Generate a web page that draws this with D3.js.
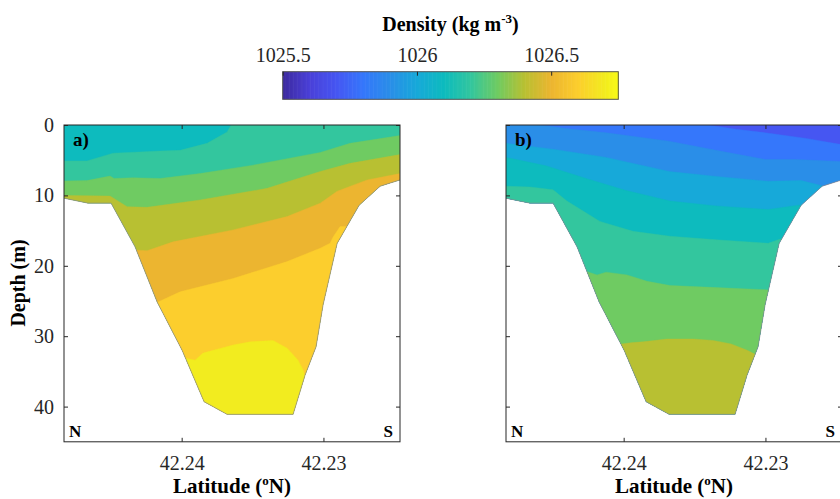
<!DOCTYPE html>
<html>
<head>
<meta charset="utf-8">
<script src="https://cdn.jsdelivr.net/npm/d3@7"></script>
<style>
  body { margin: 0; background: #fff; }
  svg { display: block; font-family: "Liberation Serif", "Times New Roman", serif; }
</style>
</head>
<body>
<svg id="chart" width="840" height="499"></svg>
<script>
// ---- Colour map (density, kg m^-3) ----
const cmapValues = [1025.5, 1025.6, 1025.7, 1025.8, 1025.9, 1026.0, 1026.1, 1026.2, 1026.3, 1026.4, 1026.5, 1026.6, 1026.7, 1026.75];
const cmapColors = ["#3d2a9e", "#4a40d8", "#4656f2", "#3577fb", "#2a8ee8", "#17a9d9", "#0dbbbe", "#33c69e", "#6fcb62", "#b8c032", "#ecb530", "#fcce2d", "#f2ec1f", "#f9fa14"];
const colorbarTicks = [1025.5, 1026, 1026.5];

// ---- Section axes ----
const latTicks = [42.24, 42.23];
const depthTicks = [0, 10, 20, 30, 40];

// ---- Bottom profile along the section (latitude, depth m) ----
const bottomLat   = [42.2483, 42.24661, 42.24498, 42.24329, 42.24174, 42.23997, 42.23842, 42.2368, 42.23214, 42.23129, 42.23052, 42.23002, 42.22903, 42.22748, 42.226, 42.2246];
const bottomDepth = [10.4, 11.1, 11.1, 17.3, 25.1, 32.0, 39.3, 41.1, 41.1, 35.5, 31.5, 25.5, 16.8, 11.4, 8.7, 7.8];

// ---- Panel a: lightest class and isopycnal depths [lat, depth] ----
const levelsA = [1026.2, 1026.3, 1026.4, 1026.5, 1026.6, 1026.7];
const baseA = 1026.1;
const isoA_1026_2 = [[42.2483, 5.1], [42.24668, 5.1], [42.24484, 4.0], [42.24153, 3.7], [42.24011, 3.6], [42.23821, 2.6], [42.2368, 1.0], [42.23637, -0.5], [42.23489, -2], [42.2246, -2]];
const isoA_1026_3 = [[42.2483, 7.95], [42.24668, 7.9], [42.24505, 7.25], [42.24477, 7.6], [42.24343, 7.5], [42.24153, 7.6], [42.2387, 6.9], [42.23496, 5.7], [42.23023, 3.9], [42.22812, 2.6], [42.2246, 1.5]];
const isoA_1026_4 = [[42.2483, 10.0], [42.24505, 10.1], [42.24385, 11.6], [42.24244, 11.7], [42.2387, 10.65], [42.23397, 9.0], [42.23023, 6.6], [42.22812, 5.45], [42.2246, 4.2]];
const isoA_1026_5 = [[42.24477, 30], [42.24407, 19], [42.24329, 17.75], [42.24244, 17.85], [42.24061, 16.6], [42.23637, 14.9], [42.23256, 13.0], [42.23023, 11.1], [42.22903, 9.4], [42.22692, 7.8], [42.2246, 6.9]];
const isoA_1026_6 = [[42.24265, 30], [42.2423, 25.5], [42.24174, 25.2], [42.24011, 23.7], [42.23955, 23.4], [42.23637, 21.8], [42.23256, 19.4], [42.23023, 17.5], [42.22953, 16.8], [42.22932, 15.9], [42.22882, 14.4], [42.22783, 14.5]];
const isoA_1026_7 = [[42.23997, 34.5], [42.23976, 33.1], [42.23906, 33.4], [42.23849, 32.4], [42.23637, 31.25], [42.23517, 30.8], [42.23355, 30.6], [42.23256, 31.7], [42.23179, 33.4], [42.23143, 34.8], [42.23122, 36.5], [42.23065, 40]];
const isoA = [isoA_1026_2, isoA_1026_3, isoA_1026_4, isoA_1026_5, isoA_1026_6, isoA_1026_7];

// ---- Panel b: lightest class and isopycnal depths [lat, depth] ----
const levelsB = [1025.8, 1025.9, 1026.0, 1026.1, 1026.2, 1026.3, 1026.4];
const baseB = 1025.7;
const isoB_1025_8 = [[42.2483, -2], [42.23595, -2], [42.23503, -0.3], [42.23207, 0.6], [42.23002, 1.1], [42.22713, 1.9], [42.2246, 2.8]];
const isoB_1025_9 = [[42.2483, -2], [42.24689, -0.3], [42.24407, 0.5], [42.24124, 1.1], [42.23680, 2.3], [42.23348, 3.6], [42.23002, 4.9], [42.22783, 4.9], [42.2246, 5.2]];
const isoB_1026_0 = [[42.2483, 2.6], [42.24477, 3.5], [42.24124, 4.6], [42.2368, 6.6], [42.23348, 7.3], [42.22981, 8.0], [42.22748, 7.9], [42.22607, 8.6], [42.2246, 9.5]];
const isoB_1026_1 = [[42.2483, 4.6], [42.24548, 5.8], [42.24265, 7.6], [42.23983, 9.3], [42.23673, 10.8], [42.23348, 11.5], [42.22981, 12.0], [42.22769, 11.4], [42.22642, 11.4]];
const isoB_1026_2 = [[42.2483, 8.7], [42.24661, 8.8], [42.24498, 9.2], [42.244, 10.8], [42.24167, 13.7], [42.23934, 15.1], [42.23673, 15.8], [42.23348, 16.3], [42.22981, 16.8], [42.22896, 16.2], [42.22783, 16.0]];
const isoB_1026_3 = [[42.24407, 25], [42.24336, 20.3], [42.24188, 21.3], [42.24124, 20.9], [42.23976, 21.3], [42.23835, 22.2], [42.23673, 22.8], [42.23348, 23.1], [42.23002, 23.4], [42.22925, 23.5]];
const isoB_1026_4 = [[42.24124, 35], [42.24054, 31.2], [42.23934, 30.9], [42.23863, 30.8], [42.23694, 30.4], [42.2351, 30.4], [42.23369, 30.6], [42.23242, 31.1], [42.23129, 32.0], [42.2303, 33.0]];
const isoB = [isoB_1025_8, isoB_1025_9, isoB_1026_0, isoB_1026_1, isoB_1026_2, isoB_1026_3, isoB_1026_4];

// ---- Layout ----
const plotTop = 125, plotBottom = 441.8, plotWidth = 336;
const panelLefts = [64, 506];
const ink = "#262626";

const svg = d3.select("#chart");
const color = d3.scaleLinear().domain(cmapValues).range(cmapColors).interpolate(d3.interpolateRgb);

const x = d3.scaleLinear().domain([42.2483, 42.2246]).range([0, plotWidth]);
const y = d3.scaleLinear().domain([0, 45]).range([plotTop, plotBottom]);
const deepest = 50;

const bottom = bottomLat.map((lat, i) => [lat, bottomDepth[i]]);

function drawPanel(left, base, levels, lines, tag, showDepthLabels) {
  const g = svg.append("g").attr("transform", `translate(${left},0)`);

  // water column between the surface and the bottom
  const waterArea = d3.area()
    .x(d => x(d[0]))
    .y0(y(0))
    .y1(d => y(d[1]));
  g.append("clipPath").attr("id", "water-" + tag)
    .append("path").attr("d", waterArea(bottom));

  const fill = g.append("g").attr("clip-path", `url(#water-${tag})`);
  fill.append("path").attr("d", waterArea(bottom)).attr("fill", color(base));

  // each density class painted from its upper isopycnal down to the bottom
  const band = d3.area()
    .x(d => x(d[0]))
    .y0(d => y(d[1]))
    .y1(y(deepest));
  lines.forEach((pts, i) => {
    fill.append("path")
      .attr("d", band(pts))
      .attr("fill", color(levels[i]))
      .attr("stroke", color(levels[i]))
      .attr("stroke-width", 0.4);
  });

  // bottom outline
  g.append("path")
    .attr("d", d3.line().x(d => x(d[0])).y(d => y(d[1]))(bottom))
    .attr("fill", "none")
    .attr("stroke", "#8a8a8a")
    .attr("stroke-width", 0.7);

  // axes with inward ticks on all four sides
  const axL = d3.axisLeft(y).tickValues(depthTicks).tickSizeInner(-4).tickSizeOuter(0).tickPadding(10);
  if (!showDepthLabels) axL.tickFormat("");
  const axR = d3.axisRight(y).tickValues(depthTicks).tickSizeInner(-4).tickSizeOuter(0).tickFormat("");
  const axT = d3.axisTop(x).tickValues(latTicks).tickSizeInner(-4).tickSizeOuter(0).tickFormat("");
  const axB = d3.axisBottom(x).tickValues(latTicks).tickSizeInner(-4).tickSizeOuter(0).tickPadding(14).tickFormat(d3.format(".2f"));

  const axes = [
    g.append("g").call(axL),
    g.append("g").attr("transform", `translate(${plotWidth},0)`).call(axR),
    g.append("g").attr("transform", `translate(0,${plotTop})`).call(axT),
    g.append("g").attr("transform", `translate(0,${plotBottom})`).call(axB)
  ];
  axes.forEach(a => {
    a.select(".domain").remove();
    a.selectAll("line").attr("stroke", ink).attr("stroke-width", 1);
    a.selectAll("text").attr("fill", ink).style("font-family", "Liberation Serif, serif").style("font-size", "20px");
  });

  g.append("rect")
    .attr("x", 0).attr("y", plotTop)
    .attr("width", plotWidth).attr("height", plotBottom - plotTop)
    .attr("fill", "none").attr("stroke", ink).attr("stroke-width", 1);

  // panel tag and section ends
  g.append("text").attr("x", 9).attr("y", 146)
    .attr("font-size", 19).attr("font-weight", "bold").attr("fill", "#000")
    .text(tag + ")");
  g.append("text").attr("x", 5).attr("y", 436.5)
    .attr("font-size", 17).attr("font-weight", "bold").attr("fill", "#000")
    .text("N");
  g.append("text").attr("x", 329).attr("y", 436.5).attr("text-anchor", "end")
    .attr("font-size", 17).attr("font-weight", "bold").attr("fill", "#000")
    .text("S");

  // latitude label
  const lab = g.append("text")
    .attr("x", plotWidth / 2).attr("y", 493)
    .attr("text-anchor", "middle")
    .attr("font-size", 21).attr("font-weight", "bold").attr("fill", "#000");
  lab.append("tspan").text("Latitude (");
  lab.append("tspan").attr("font-size", 13).attr("dy", -8).text("o");
  lab.append("tspan").attr("dy", 8).text("N)");
}

drawPanel(panelLefts[0], baseA, levelsA, isoA, "a", true);
drawPanel(panelLefts[1], baseB, levelsB, isoB, "b", false);

// depth label
svg.append("text")
  .attr("transform", `translate(25,283) rotate(-90)`)
  .attr("text-anchor", "middle")
  .attr("font-size", 20).attr("font-weight", "bold").attr("fill", "#000")
  .text("Depth (m)");

// ---- Colour bar ----
const cbLeft = 282.7, cbRight = 618.3, cbTop = 71.7, cbBottom = 99.3;
const cx = d3.scaleLinear().domain([cmapValues[0], cmapValues[cmapValues.length - 1]]).range([cbLeft, cbRight]);
const steps = d3.range(0, 256).map(i => cx.domain()[0] + (i + 0.5) * (cx.domain()[1] - cx.domain()[0]) / 256);
const stepW = (cbRight - cbLeft) / 256;
svg.append("g").selectAll("rect").data(steps).join("rect")
  .attr("x", d => cx(d) - stepW / 2)
  .attr("y", cbTop)
  .attr("width", stepW + 0.6)
  .attr("height", cbBottom - cbTop)
  .attr("fill", d => color(d));
svg.append("rect")
  .attr("x", cbLeft).attr("y", cbTop)
  .attr("width", cbRight - cbLeft).attr("height", cbBottom - cbTop)
  .attr("fill", "none").attr("stroke", "#555").attr("stroke-width", 1);

const cbAxis = svg.append("g").attr("transform", `translate(0,${cbTop})`)
  .call(d3.axisTop(cx).tickValues(colorbarTicks).tickSizeInner(-4).tickSizeOuter(0).tickPadding(10).tickFormat(d3.format("")));
cbAxis.select(".domain").remove();
cbAxis.selectAll("line").attr("stroke", ink);
cbAxis.selectAll("text").attr("fill", ink).style("font-family", "Liberation Serif, serif").style("font-size", "20px");

const cbTitle = svg.append("text")
  .attr("x", (cbLeft + cbRight) / 2).attr("y", 31)
  .attr("text-anchor", "middle")
  .attr("font-size", 20).attr("font-weight", "bold").attr("fill", "#000");
cbTitle.append("tspan").text("Density (kg m");
cbTitle.append("tspan").attr("font-size", 13).attr("dy", -8).text("-3");
cbTitle.append("tspan").attr("dy", 8).text(")");
</script>
</body>
</html>
